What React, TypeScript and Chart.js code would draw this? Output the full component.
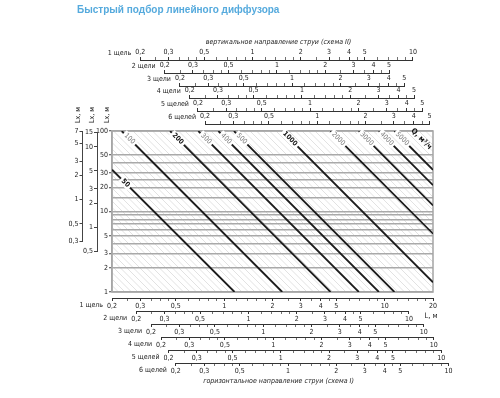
import React, { useEffect, useRef } from 'react';
import { Chart, registerables } from 'chart.js';

Chart.register(...registerables);

// ---- data ----
const qValues = [50, 100, 200, 300, 400, 500, 1000, 2000, 3000, 4000, 5000];
const qBold = [true, false, true, false, false, false, true, false, false, false, false];
const lineStartL = [0.2, 0.23, 0.46, 0.69, 0.92, 1.15, 2.3, 4.6, 6.9, 9.2, 11.5];
const lineStartLx = [33, 100, 100, 100, 100, 100, 100, 100, 100, 100, 100];
const lineEndL = [1.16, 2.3, 4.6, 6.9, 9.2, 11.5, 20, 20, 20, 20, 20];
const lineEndLx = [1, 1, 1, 1, 1, 1, 1.32, 5.3, 11.9, 21.2, 33];

const lxGridValues = [1, 2, 3, 4, 5, 6, 7, 8, 9, 10, 15, 20, 25, 30, 40, 50, 100];
const lxTickLabels = [1, 2, 3, 5, 10, 20, 30, 50, 100];
const lx1Ticks = [0.3, 0.5, 1, 2, 3, 5, 7];
const lx2Ticks = [0.5, 1, 2, 3, 5, 10, 15];
const lx1Shift = 14.1;
const lx2Shift = 6.37;

const slotNames = ['1 щель', '2 щели', '3 щели', '4 щели', '5 щелей', '6 щелей'];
const majorTicks = [0.2, 0.3, 0.5, 1, 2, 3, 4, 5, 10, 20];
const minorTicks = [0.25, 0.35, 0.4, 0.45, 0.6, 0.7, 0.8, 0.9, 1.2, 1.4, 1.6, 1.8, 2.5, 3.5, 4.5, 6, 7, 8, 9, 12, 14, 16, 18];
const topRowMax = [10, 5, 5, 5, 5, 5];
const bottomRowMax = [20, 10, 10, 10, 10, 10];
const topRowShift = [1.5, 2.13, 2.65, 3.05, 3.43, 3.8];
const bottomRowShift = [1, 1.415, 1.75, 2.02, 2.25, 2.5];

const titleText = 'Быстрый подбор линейного диффузора';
const topCaption = 'вертикальное направление струи (схема II)';
const bottomCaption = 'горизонтальное направление струи (схема I)';
const lUnit = 'L, м';
const lxHeader = 'Lx, м';
const qUnit = 'Q, м³/ч';

const FONT = "'Liberation Sans Narrow','DejaVu Sans Condensed','Liberation Sans',sans-serif";
const fmt = (v: number) => String(v).replace('.', ',');

const topOff = [71, 58, 45, 33, 20, 7];
const botOff = [6, 19, 32, 45, 58, 71];

function rowScale(position: 'top' | 'bottom', max: number) {
  const vals = [...majorTicks, ...minorTicks]
    .filter((v) => v >= 0.2 - 1e-9 && v <= max + 1e-9)
    .sort((a, b) => a - b);
  return {
    type: 'logarithmic',
    axis: 'x',
    position,
    min: 0.2,
    max,
    bounds: 'data',
    afterFit: (s: any) => { s.height = 0; },
    afterBuildTicks: (s: any) => { s.ticks = vals.map((v) => ({ value: v })); },
    grid: {
      drawOnChartArea: false,
      drawTicks: true,
      tickLength: 3,
      color: '#333',
      tickWidth: (c: any) => (majorTicks.includes(c.tick?.value) ? 1 : 0.7),
    },
    border: { display: true, color: '#333', width: 1 },
    ticks: {
      autoSkip: false,
      maxRotation: 0,
      minRotation: 0,
      padding: 1,
      color: '#222',
      font: { family: FONT, size: 7 },
      callback: (v: any) => (majorTicks.includes(v) ? fmt(v) : ''),
    },
  };
}

function leftScale(min: number, max: number, ticks: number[]) {
  return {
    type: 'logarithmic',
    axis: 'y',
    position: 'left',
    min,
    max,
    bounds: 'data',
    afterFit: (s: any) => { s.width = 0; },
    afterBuildTicks: (s: any) => { s.ticks = ticks.map((v) => ({ value: v })); },
    grid: { drawOnChartArea: false, drawTicks: true, tickLength: 3, color: '#444' },
    border: { display: true, color: '#444', width: 1 },
    ticks: {
      autoSkip: false,
      padding: 1,
      color: '#222',
      font: { family: FONT, size: 7 },
      callback: (v: any) => fmt(v),
    },
  };
}

function place(s: any, l: number, r: number, t: number, b: number) {
  s.left = l; s.right = r; s.top = t; s.bottom = b;
  s.width = r - l; s.height = b - t;
  s.configure();
  s._labelItems = null;
  s._gridLineItems = null;
}

const layoutPlugin = {
  id: 'nomoLayout',
  afterLayout(chart: any) {
    const ca = chart.chartArea;
    const xs = chart.scales.x;
    const ys = chart.scales.y;
    for (let i = 0; i < 6; i++) {
      const st = chart.scales['xt' + i];
      const yT = ca.top - topOff[i];
      place(st, xs.getPixelForValue(0.2 * topRowShift[i]), xs.getPixelForValue(topRowMax[i] * topRowShift[i]), yT - 12, yT);
      const sb = chart.scales['xb' + i];
      const yB = ca.bottom + botOff[i];
      place(sb, xs.getPixelForValue(0.2 * bottomRowShift[i]), xs.getPixelForValue(bottomRowMax[i] * bottomRowShift[i]), yB, yB + 12);
    }
    place(ys, ca.left - 24, ca.left, ca.top, ca.bottom);
    const y1 = chart.scales.y1;
    place(y1, ca.left - 60, ca.left - 29.5, ys.getPixelForValue(7 * lx1Shift), ys.getPixelForValue(0.3 * lx1Shift));
    const y2 = chart.scales.y2;
    place(y2, ca.left - 40, ca.left - 15, ys.getPixelForValue(15 * lx2Shift), ys.getPixelForValue(0.5 * lx2Shift));
  },
};

const decorPlugin = {
  id: 'nomoDecor',
  beforeDraw(chart: any) {
    const { ctx, chartArea: ca } = chart;
    ctx.save();
    ctx.beginPath();
    ctx.rect(ca.left, ca.top, ca.right - ca.left, ca.bottom - ca.top);
    ctx.clip();
    ctx.strokeStyle = '#e2e2e2';
    ctx.lineWidth = 1;
    const h = ca.bottom - ca.top;
    for (let x = ca.left - h; x < ca.right; x += 6.5) {
      ctx.beginPath();
      ctx.moveTo(x, ca.top);
      ctx.lineTo(x + h, ca.bottom);
      ctx.stroke();
    }
    ctx.restore();
  },
  beforeDatasetsDraw(chart: any) {
    const { ctx, chartArea: ca } = chart;
    ctx.save();
    ctx.strokeStyle = '#a5a5a5';
    ctx.lineWidth = 1.5;
    ctx.strokeRect(ca.left, ca.top, ca.right - ca.left, ca.bottom - ca.top);
    ctx.restore();
  },
  afterDatasetsDraw(chart: any) {
    const { ctx } = chart;
    ctx.save();
    chart.data.datasets.forEach((ds: any, i: number) => {
      const meta = chart.getDatasetMeta(i);
      const p0 = meta.data[0];
      const p1 = meta.data[1];
      const dx = p1.x - p0.x;
      const dy = p1.y - p0.y;
      const len = Math.hypot(dx, dy);
      const d = i === 0 ? 19 : 11;
      const cx = p0.x + (dx / len) * d;
      const cy = p0.y + (dy / len) * d;
      ctx.save();
      ctx.translate(cx, cy);
      ctx.rotate(Math.atan2(dy, dx));
      ctx.font = `${qBold[i] ? 'bold ' : ''}7px ${FONT}`;
      const label = String(qValues[i]);
      const w = ctx.measureText(label).width;
      ctx.fillStyle = '#fff';
      ctx.fillRect(-w / 2 - 2, -4, w + 4, 8);
      ctx.fillStyle = qBold[i] ? '#111' : '#7a7a7a';
      ctx.textAlign = 'center';
      ctx.textBaseline = 'middle';
      ctx.fillText(label, 0, 0);
      ctx.restore();
      if (i === chart.data.datasets.length - 1) {
        ctx.save();
        ctx.translate(p0.x + 27, p0.y + 8);
        ctx.rotate(Math.atan2(dy, dx));
        ctx.font = `bold 7.5px ${FONT}`;
        ctx.fillStyle = '#111';
        ctx.textAlign = 'center';
        ctx.textBaseline = 'middle';
        ctx.fillText(qUnit, 0, 0);
        ctx.restore();
      }
    });
    ctx.restore();
  },
  afterDraw(chart: any) {
    const { ctx, chartArea: ca } = chart;
    ctx.save();
    ctx.fillStyle = '#222';
    ctx.font = `7px ${FONT}`;
    ctx.textBaseline = 'middle';
    ctx.textAlign = 'right';
    for (let i = 0; i < 6; i++) {
      const st = chart.scales['xt' + i];
      ctx.fillText(slotNames[i], st.getPixelForValue(0.2) - 9, st.bottom - 7);
      const sb = chart.scales['xb' + i];
      ctx.fillText(slotNames[i], sb.getPixelForValue(0.2) - 9, sb.top + 7);
    }
    ctx.textAlign = 'center';
    ctx.font = `italic 7px ${FONT}`;
    const cx = (ca.left + ca.right) / 2 + 6;
    ctx.fillText(topCaption, cx, chart.scales.xt0.bottom - 18);
    ctx.fillText(bottomCaption, cx, chart.scales.xb5.top + 18);
    ctx.font = `7.5px ${FONT}`;
    ctx.fillText(lUnit, ca.right - 2, chart.scales.xb1.top + 5);
    const heads = [chart.scales.y1, chart.scales.y2, chart.scales.y];
    ctx.font = `7px ${FONT}`;
    heads.forEach((s: any) => {
      ctx.save();
      ctx.translate(s.right - 4.5, ca.top - 16);
      ctx.rotate(-Math.PI / 2);
      ctx.fillText(lxHeader, 0, 0);
      ctx.restore();
    });
    ctx.restore();
  },
};

export default function App() {
  const ref = useRef<HTMLCanvasElement | null>(null);

  useEffect(() => {
    if (!ref.current) return;
    const datasets = qValues.map((q, i) => ({
      label: String(q),
      data: [
        { x: lineStartL[i], y: lineStartLx[i] },
        { x: lineEndL[i], y: lineEndLx[i] },
      ],
      showLine: true,
      borderColor: '#1c1c1c',
      borderWidth: 1.8,
      pointRadius: 0,
      xAxisID: 'x',
      yAxisID: 'y',
    }));

    const scales: any = {
      x: {
        type: 'logarithmic',
        min: 0.2,
        max: 20,
        display: false,
      },
      y: {
        type: 'logarithmic',
        position: 'left',
        min: 1,
        max: 100,
        bounds: 'data',
        afterFit: (s: any) => { s.width = 0; },
        afterBuildTicks: (s: any) => { s.ticks = lxGridValues.map((v) => ({ value: v })); },
        grid: {
          drawOnChartArea: true,
          drawTicks: true,
          tickLength: 3,
          color: '#a9a9a9',
          lineWidth: 1.5,
          tickColor: (c: any) => (lxTickLabels.includes(c.tick?.value) ? '#444' : 'rgba(0,0,0,0)'),
          tickWidth: 1,
        },
        border: { display: true, color: '#a9a9a9', width: 1.5 },
        ticks: {
          autoSkip: false,
          padding: 1,
          color: '#222',
          font: { family: FONT, size: 7 },
          callback: (v: any) => (lxTickLabels.includes(v) ? fmt(v) : ''),
        },
      },
      y1: leftScale(0.3, 7, lx1Ticks),
      y2: leftScale(0.5, 15, lx2Ticks),
    };
    for (let i = 0; i < 6; i++) {
      scales['xt' + i] = rowScale('top', topRowMax[i]);
      scales['xb' + i] = rowScale('bottom', bottomRowMax[i]);
    }

    const chart = new Chart(ref.current, {
      type: 'scatter',
      data: { datasets },
      options: {
        responsive: false,
        animation: false,
        devicePixelRatio: 1,
        layout: { padding: { left: 112, top: 131, right: 67, bottom: 106 } },
        plugins: { legend: { display: false }, tooltip: { enabled: false }, title: { display: false } },
        scales,
      } as any,
      plugins: [layoutPlugin, decorPlugin],
    });
    return () => chart.destroy();
  }, []);

  return (
    <div style={{ position: 'absolute', left: 0, top: 0, width: 500, height: 398, background: '#fff' }}>
      <div
        style={{
          position: 'absolute',
          left: 77,
          top: 4,
          font: "bold 10px 'Liberation Sans', Arial, sans-serif",
          color: '#55aadd',
          whiteSpace: 'nowrap',
        }}
      >
        {titleText}
      </div>
      <canvas ref={ref} width={500} height={398} style={{ display: 'block', width: 500, height: 398 }} />
    </div>
  );
}
